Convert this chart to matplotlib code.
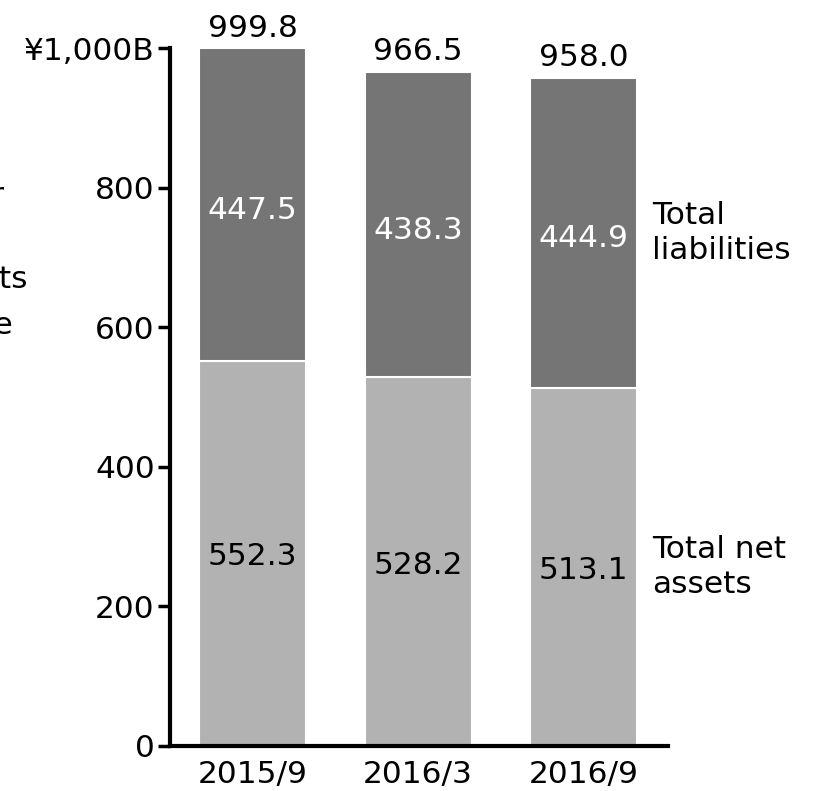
import numpy as np
import matplotlib.pyplot as plt

# data
periods = ['2015/9', '2016/3', '2016/9']
net_assets = [552.3, 528.2, 513.1]
liabilities = [447.5, 438.3, 444.9]
totals = [999.8, 966.5, 958.0]
yticks = [0, 200, 400, 600, 800, 1000]
ytick_labels = ['0', '200', '400', '600', '800', '¥1,000B']

plt.rcParams['font.family'] = ['DejaVu Sans']
fs = 22.5

fig = plt.figure(figsize=(8.27, 7.91), dpi=100)
ax = fig.add_axes([0.2056, 0.0569, 0.602, 0.882])

x = np.arange(len(periods))
w = 0.647
light = '#b2b2b2'
dark = '#757575'
ax.bar(x, net_assets, width=w, color=light, edgecolor='white', linewidth=1.5)
ax.bar(x, liabilities, width=w, bottom=net_assets, color=dark, edgecolor='white', linewidth=1.5)

for i in range(len(periods)):
    ax.text(x[i], net_assets[i] / 2 - 5, f'{net_assets[i]:.1f}', ha='center', va='center',
            fontsize=fs, color='black')
    ax.text(x[i], net_assets[i] + liabilities[i] / 2 - 8, f'{liabilities[i]:.1f}',
            ha='center', va='center', fontsize=fs, color='white')
    ax.text(x[i], totals[i] + 8, f'{totals[i]:.1f}', ha='center', va='bottom',
            fontsize=fs, color='black', clip_on=False)

ax.set_xlim(-0.5, 2.51)
ax.set_ylim(0, 1000)
ax.set_xticks(x)
ax.set_xticklabels(periods)
ax.set_yticks(yticks)
ax.set_yticklabels(ytick_labels)
ax.tick_params(axis='y', direction='out', length=9, width=2.5, labelsize=fs, pad=2)
ax.tick_params(axis='x', length=0, labelsize=fs, pad=10)
for s in ['top', 'right']:
    ax.spines[s].set_visible(False)
for s in ['left', 'bottom']:
    ax.spines[s].set_linewidth(3)

# series labels on the right
fig.text(652 / 827, 1 - 233 / 791, 'Total\nliabilities', ha='left', va='center',
         fontsize=fs, linespacing=1.25)
fig.text(652 / 827, 1 - 567 / 791, 'Total net\nassets', ha='left', va='center',
         fontsize=fs, linespacing=1.25)

# clipped text at left edge
fig.text(28 / 827, 1 - 280 / 791, 'Total assets', ha='right', va='center', fontsize=fs)
fig.text(13 / 827, 1 - 325 / 791, 'decrease', ha='right', va='center', fontsize=fs)
fig.text(4 / 827, 1 - 195 / 791, 'for', ha='right', va='center', fontsize=fs)

fig.savefig('out.png', dpi=100)
